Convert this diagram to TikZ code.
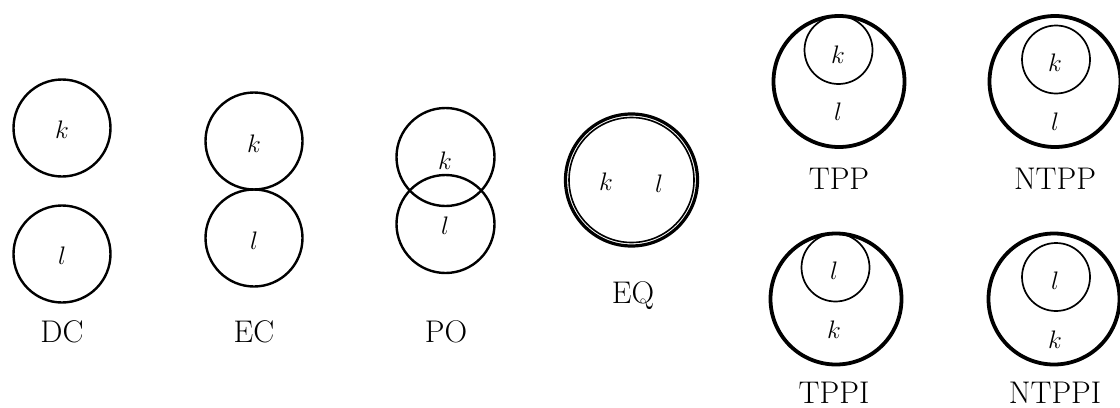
\RequirePackage{fix-cm}
\documentclass[tikz,border=0pt]{standalone}
\begin{document}
\begin{tikzpicture}[x=0.75pt,y=-0.75pt,
  reg/.style={draw, circle, inner sep=0pt, line width=2.4*0.75pt},
  big/.style={draw, circle, inner sep=0pt, line width=3.8*0.75pt},
  small/.style={draw, circle, inner sep=0pt, line width=1.7*0.75pt},
  var/.style={inner sep=0pt, font=\fontsize{19}{23}\selectfont},
  lab/.style={inner sep=0pt, anchor=base, font=\fontsize{23.5}{28}\selectfont}]
\useasboundingbox (0,0) rectangle (1120,407);
% DC
\node[reg, minimum size=97*0.75pt] (dck) at (62,128) {};
\node[reg, minimum size=97*0.75pt] (dcl) at (62,254) {};
\node[var] (dcktxt) at (62,130) {$k$};
\node[var] (dcltxt) at (62,256) {$l$};
\node[lab] (dclab) at (62,342) {DC};
% EC
\node[reg, minimum size=97*0.75pt] (eck) at (254,141) {};
\node[reg, minimum size=97*0.75pt] (ecl) at (254,238) {};
\node[var] (ecktxt) at (254,144) {$k$};
\node[var] (ecltxt) at (254,241) {$l$};
\node[lab] (eclab) at (254,342) {EC};
% PO
\node[reg, minimum size=98*0.75pt] (pok) at (445.5,157) {};
\node[reg, minimum size=98*0.75pt] (pol) at (445.5,224) {};
\node[var] (poktxt) at (445,161) {$k$};
\node[var] (poltxt) at (445,226) {$l$};
\node[lab] (polab) at (446,342) {PO};
% EQ
\node[draw, circle, inner sep=0pt, line width=3.2*0.75pt, minimum size=132*0.75pt] (eqo) at (631.5,180) {};
\node[draw, circle, inner sep=0pt, line width=1.6*0.75pt, minimum size=125*0.75pt] (eqi) at (631.5,180) {};
\node[var] (eqktxt) at (606,182) {$k$};
\node[var] (eqltxt) at (659,184) {$l$};
\node[lab] (eqlab) at (633,303) {EQ};
% TPP
\node[big, minimum size=131*0.75pt] (tppl) at (839,81.5) {};
\node[small, minimum size=68*0.75pt] (tppk) at (838.5,50) {};
\node[var] (tppktxt) at (838,55) {$k$};
\node[var] (tppltxt) at (838,112) {$l$};
\node[lab] (tpplab) at (839,189) {TPP};
% NTPP
\node[big, minimum size=131*0.75pt] (ntppl) at (1055,81.5) {};
\node[small, minimum size=68*0.75pt] (ntppk) at (1056,59.5) {};
\node[var] (ntppktxt) at (1055,63) {$k$};
\node[var] (ntppltxt) at (1055,122) {$l$};
\node[lab] (ntpplab) at (1055,189) {NTPP};
% TPPI
\node[big, minimum size=131*0.75pt] (tppik) at (836,299) {};
\node[small, minimum size=68*0.75pt] (tppil) at (835.5,267.5) {};
\node[var] (tppiltxt) at (834,271) {$l$};
\node[var] (tppiktxt) at (834,330) {$k$};
\node[lab] (tppilab) at (834,403) {TPPI};
% NTPPI
\node[big, minimum size=131*0.75pt] (ntppik) at (1054,299) {};
\node[small, minimum size=68*0.75pt] (ntppil) at (1056,277) {};
\node[var] (ntppiltxt) at (1055,281) {$l$};
\node[var] (ntppiktxt) at (1055,340) {$k$};
\node[lab] (ntppilab) at (1055,403) {NTPPI};
\end{tikzpicture}
\end{document}
